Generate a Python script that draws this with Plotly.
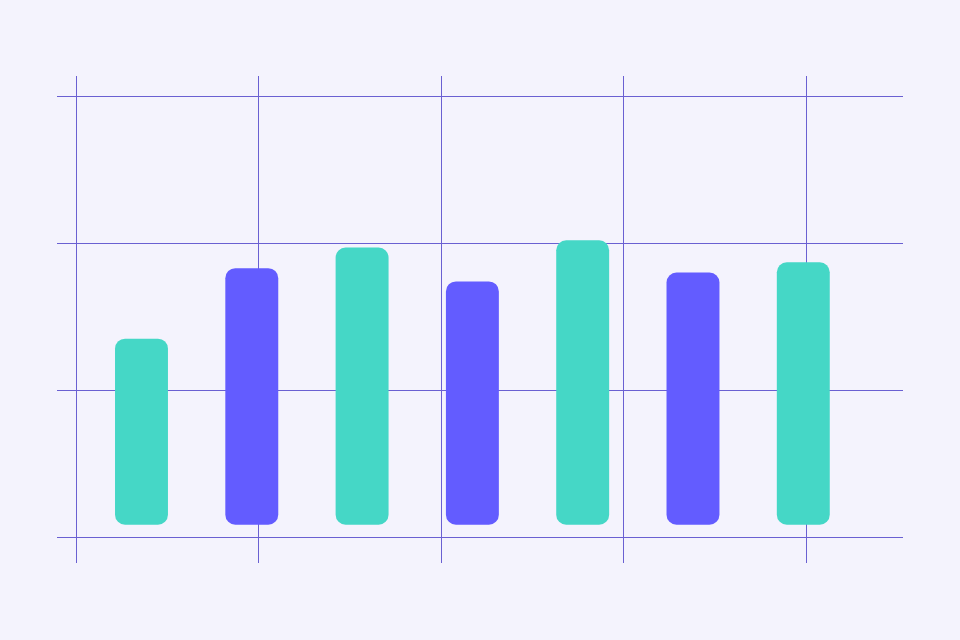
import plotly.graph_objects as go

# Data
categories = ["A", "B", "C", "D", "E", "F", "G"]
bar_tops = [135, 183, 197, 174, 202, 180, 187]
bar_base = 8.4
bar_colors = ["#45D7C6", "#635CFF", "#45D7C6", "#635CFF", "#45D7C6", "#635CFF", "#45D7C6"]
grid_x = [0, 1, 2, 3, 4]
grid_y = [0, 100, 200, 300]

BG = "#F4F3FD"
GRID = "#6A60D2"

idx = list(range(len(categories)))
heights = [t - bar_base for t in bar_tops]

fig = go.Figure()
# invisible trace to carry the grid axis
fig.add_trace(go.Scatter(x=[grid_x[0], grid_x[-1]], y=[grid_y[0], grid_y[-1]],
                         mode="markers", marker=dict(opacity=0),
                         hoverinfo="skip", showlegend=False,
                         xaxis="x2", yaxis="y"))
fig.add_trace(go.Bar(x=idx, y=heights, base=bar_base,
                     marker=dict(color=bar_colors, line=dict(width=0), cornerradius=10),
                     width=0.48, showlegend=False, hoverinfo="skip", xaxis="x", yaxis="y"))

fig.update_layout(
    width=960, height=640,
    paper_bgcolor=BG, plot_bgcolor=BG,
    margin=dict(l=57, r=57, t=76, b=77),
    xaxis=dict(range=[-0.766, 6.904], showgrid=False, zeroline=False,
               showticklabels=False, showline=False, ticks=""),
    xaxis2=dict(range=[-0.106, 4.530], overlaying="x", side="bottom",
                tickvals=grid_x, showgrid=True, gridcolor=GRID, gridwidth=1,
                zeroline=False, showticklabels=False, showline=False, ticks=""),
    yaxis=dict(range=[-17.7, 313.8], tickvals=grid_y, showgrid=True,
               gridcolor=GRID, gridwidth=1, zeroline=False,
               showticklabels=False, showline=False, ticks=""),
)

fig.write_html("out.html", config={"displayModeBar": False},
               post_script="document.body.style.margin='0';document.body.style.background='" + BG + "';")
